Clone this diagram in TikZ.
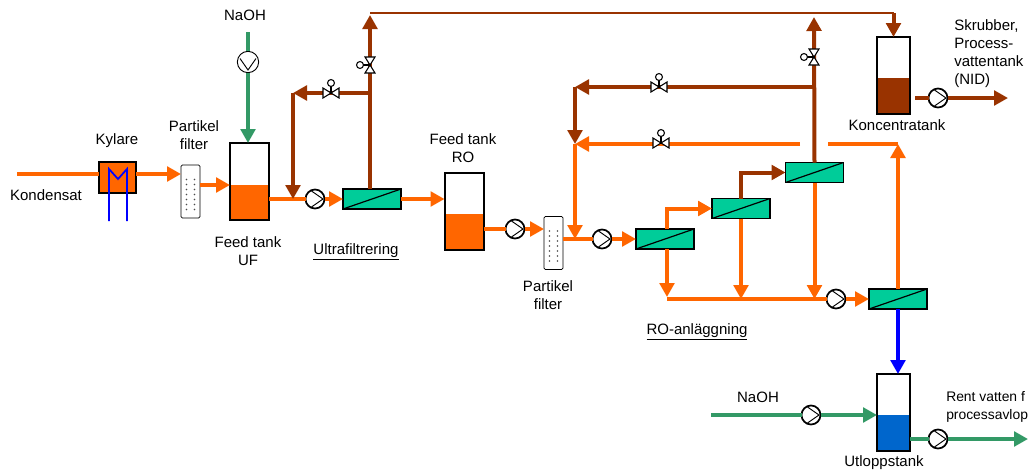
\documentclass[tikz,border=0pt]{standalone}
\usepackage{fontspec}
\setmainfont{Liberation Sans}
\usetikzlibrary{arrows.meta,positioning}

\definecolor{proc}{HTML}{FF6600}
\definecolor{conc}{HTML}{993300}
\definecolor{lye}{HTML}{339966}
\definecolor{perm}{HTML}{0000FF}
\definecolor{clean}{HTML}{0066CC}
\definecolor{memb}{HTML}{00CC99}

\begin{document}
\begin{tikzpicture}[
    x=0.75pt, y=-0.75pt,
    font=\fontsize{11.25}{13.5}\selectfont,
    lbl/.style={align=center, inner sep=0pt},
    equip/.style={draw=black, inner sep=0pt, outer sep=0pt},
    tankbox/.style={equip, line width=1.5pt, minimum width=29.25pt, minimum height=57.75pt},
    smalltank/.style={tankbox, minimum width=24.75pt},
    level/.style={inner sep=0pt, outer sep=0pt, minimum width=29.25pt},
    pump/.style={equip, circle, line width=1.3pt, fill=white, minimum size=14.25pt,
        path picture={\draw[line width=.7pt]
            ([shift={(-3.5,-8)}]path picture bounding box.center) --
            ([shift={(8,0)}]path picture bounding box.center) --
            ([shift={(-3.5,8)}]path picture bounding box.center);}},
    membrane/.style={equip, line width=.9pt, fill=memb, minimum width=43.5pt, minimum height=15pt,
        path picture={\draw[line width=.9pt] (path picture bounding box.south west) --
            (path picture bounding box.north east);}},
    filterbox/.style={equip, line width=.6pt, fill=white, rounded corners=1pt, minimum width=14.25pt, minimum height=39.75pt,
        path picture={\foreach \dy in {-12,-7,-2,3,8,13,18} {
            \fill[black!70] ([shift={(-4,\dy)}]path picture bounding box.center) circle (.6pt);
            \fill[black!70] ([shift={(4,\dy)}]path picture bounding box.center) circle (.6pt);}}},
    pipe/.style={line width=3pt, draw=proc},
    brownpipe/.style={pipe, draw=conc},
    greenpipe/.style={pipe, draw=lye},
    arrow/.style={-{Triangle[length=10.5pt,width=11pt]}},
    valve/.pic={
        \draw[fill=white, line width=.8pt] (-8,-5) -- (8,5) -- (8,-5) -- (-8,5) -- cycle;
        \draw[line width=.8pt] (0,0) -- (0,-7);
        \draw[fill=white, line width=.8pt] (0,-10) circle (2.6pt);}
]
\useasboundingbox (0,0) rectangle (1029,472);

% --- equipment, left part ---
\node[equip, line width=1.3pt, fill=proc, minimum width=27.75pt, minimum height=23.25pt] (kylare) at (117.5,177.5) {};
\node[filterbox] (filterone) at (190.5,191.5) {};
\node[level, fill=proc, minimum height=26.25pt] (leveluf) at (249.5,202.5) {};
\node[tankbox] (tankuf) at (249.5,181.5) {};
\node[pump, rotate=-90, minimum size=16pt, line width=.7pt] (pumplye) at (248,62) {};
\node[pump] (pumpuf) at (315,199) {};
\node[membrane] (membuf) at (372,199) {};

% --- equipment, RO line ---
\node[level, fill=proc, minimum height=27pt] (levelro) at (464,232) {};
\node[tankbox] (tankro) at (464,211.5) {};
\node[pump] (pumpro) at (515,229) {};
\node[filterbox] (filtertwo) at (553.5,243) {};
\node[pump] (pumpfeed) at (602,239) {};
\node[membrane] (membone) at (665,239) {};
\node[membrane] (membtwo) at (741,208.5) {};
\node[membrane] (membthree) at (814.5,172.5) {};
\node[pump] (pumpperm) at (836,299) {};
\node[membrane] (membfour) at (898,299) {};

% --- tanks on the right ---
\node[level, fill=conc, minimum width=24.75pt, minimum height=27pt] (levelconc) at (893.5,96) {};
\node[smalltank] (tankconc) at (893.5,75.5) {};
\node[pump] (pumpconc) at (938,98) {};
\node[level, fill=clean, minimum width=24.75pt, minimum height=27pt] (levelout) at (893.5,433) {};
\node[smalltank] (tankout) at (893.5,412.5) {};
\node[pump] (pumplyetwo) at (811,415) {};
\node[pump] (pumpout) at (938,439) {};

% free ends and junctions
\coordinate (kondin) at (17,174);
\coordinate (lyetop) at (248,32);
\coordinate (backuf) at (293,93);
\coordinate (riseruf) at (370,15);
\coordinate (toprun) at (370,13);
\coordinate (backro) at (575,87);
\coordinate (mixro) at (575,144);
\coordinate (riserro) at (814,17);
\coordinate (gapleft) at (800,144);
\coordinate (gapright) at (828,144);
\coordinate (konctail) at (915,98);
\coordinate (konchead) at (1008,98);
\coordinate (permline) at (667,299);
\coordinate (lyein) at (711,415);
\coordinate (rentout) at (1028,439);

% orange lines
\draw[pipe] (kondin) -- (kondin -| kylare.west);
\draw[pipe, arrow] (kondin -| kylare.east) -- (kondin -| filterone.west);
\draw[pipe, arrow] (filterone.east |- 0,185) -- (tankuf.west |- 0,185);
\draw[pipe] (tankuf.east |- pumpuf) -- (pumpuf);
\draw[pipe, arrow] (pumpuf) -- (membuf);
\draw[pipe, arrow] (membuf) -- (membuf -| tankro.west);
\draw[pipe] (tankro.east |- pumpro) -- (pumpro);
\draw[pipe, arrow] (pumpro) -- (pumpro -| filtertwo.west);
\draw[pipe] (filtertwo.east |- pumpfeed) -- (pumpfeed);
\draw[pipe, arrow] (pumpfeed) -- (membone);
\draw[pipe, arrow] (mixro) -- (mixro |- pumpfeed);
\draw[pipe, arrow] (gapleft) -- (mixro);
\draw[pipe, arrow] (membone.north -| permline) |- (membtwo.west);
\draw[pipe, arrow] (membone.south -| permline) -- ++(0,48);
\draw[pipe] (permline) -- (pumpperm);
\draw[pipe, arrow] (pumpperm) -- (membfour);
\draw[pipe, arrow] (membtwo.south) -- (membtwo.south |- pumpperm);
\draw[pipe, arrow] (membthree.south) -- (membthree.south |- pumpperm);
\draw[pipe, arrow] (membfour.north) -- (gapright -| membfour.north);
\draw[pipe] (gapright) -- (gapright -| membfour.north);

% brown lines
\draw[brownpipe, arrow] (riseruf |- membuf.north) -- (riseruf);
\draw[brownpipe, arrow] (riseruf |- backuf) -- (backuf);
\draw[brownpipe, arrow] (backuf) -- (backuf |- pumpuf);
\draw[brownpipe, line width=2.2pt] (toprun) -| ++(523,2);
\draw[brownpipe, arrow] (tankconc.north |- toprun) -- (tankconc.north);
\draw[brownpipe, arrow] (membthree.north) -- (riserro);
\draw[brownpipe, arrow] (riserro |- backro) -- (backro);
\draw[brownpipe, arrow] (backro) -- (mixro);
\draw[brownpipe, arrow] (membtwo.north) |- (membthree.west);
\draw[brownpipe] (konctail) -- (pumpconc);
\draw[brownpipe, arrow] (pumpconc) -- (konchead);

% green and blue lines
\draw[greenpipe] (lyetop) -- (pumplye);
\draw[greenpipe, arrow] (pumplye) -- (lyetop |- tankuf.north);
\draw[greenpipe] (lyein) -- (pumplyetwo);
\draw[greenpipe, arrow] (pumplyetwo) -- (pumplyetwo -| tankout.west);
\draw[greenpipe] (tankout.east |- pumpout) -- (pumpout);
\draw[greenpipe, arrow] (pumpout) -- (rentout);
\draw[pipe, draw=perm, arrow] (membfour.south) -- (membfour.south |- tankout.north);

% cooler coil
\draw[perm, line width=1.3pt] (109,221) -- (109,169) -- (118,179) -- (127,169) -- (127,221);

% valves
\pic (valveuf) at (331,93) {valve};
\pic[rotate=90] (valveriseruf) at (370,65) {valve};
\pic (valvero) at (659,87) {valve};
\pic (valveorange) at (661,143) {valve};
\pic[rotate=90] (valveriserro) at (814,57) {valve};

% labels
\node[lbl] (lblnaoh) at (245,15) {NaOH};
\node[lbl] (lblkond) at (46,195) {Kondensat};
\node[lbl] (lblkyl) at (117,141) {Kylare};
\node[lbl] (lblfilterone) at (194,135) {Partikel\\filter};
\node[lbl] (lbltankuf) at (248,251) {Feed tank\\UF};
\node[lbl] (lbltankro) at (463,148) {Feed tank\\RO};
\node[lbl] (lbluf) at (356,252) {\underline{Ultrafiltrering}};
\node[lbl] (lblfiltertwo) at (548,295) {Partikel\\filter};
\node[lbl] (lblro) at (697,332) {\underline{RO-anläggning}};
\node[lbl] (lblconc) at (897,125) {Koncentratank};
\node[lbl, align=left, anchor=west] (lblskr) at (954,54) {Skrubber,\\Process-\\vattentank\\(NID)};
\node[lbl] (lblnaohtwo) at (758,397) {NaOH};
\node[lbl, align=left, anchor=west, font=\fontsize{10.4}{13.5}\selectfont] (lblrent) at (946,407) {Rent vatten f\\processavlop};
\node[lbl] (lblout) at (884,463) {Utloppstank};

\end{tikzpicture}
\end{document}
